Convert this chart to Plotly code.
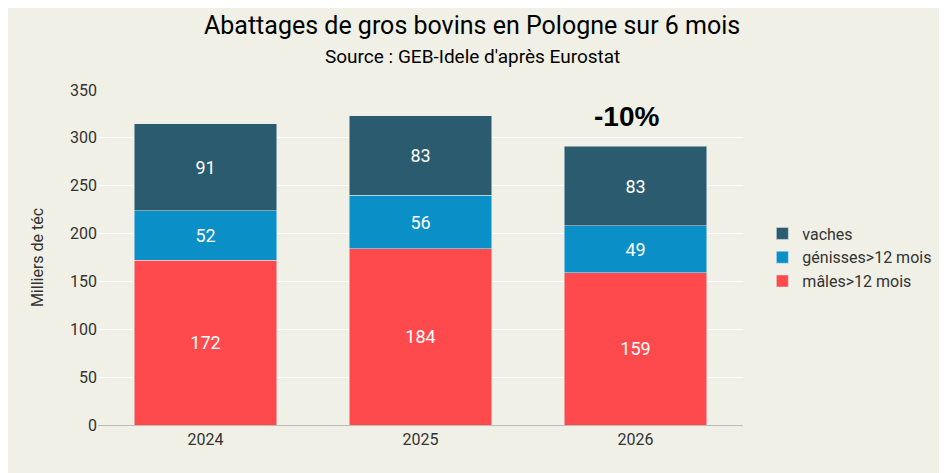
import plotly.graph_objects as go

years = ["2024", "2025", "2026"]
males = [172, 184, 159]
genisses = [52, 56, 49]
vaches = [91, 83, 83]
change_label = "-10%"

pos = list(range(len(years)))

fig = go.Figure()
for name, vals, color in [("mâles>12 mois", males, "#FF4A4D"),
                          ("génisses>12 mois", genisses, "#0A8FC6"),
                          ("vaches", vaches, "#2A5B6E")]:
    fig.add_trace(go.Bar(x=pos, y=vals, name=name, marker_color=color, width=0.665,
                         text=[str(v) for v in vals], textposition="inside",
                         insidetextanchor="middle",
                         textfont=dict(color="white", size=18)))

totals = [a + b + c for a, b, c in zip(males, genisses, vaches)]
fig.add_annotation(x=pos[-1], y=totals[-1], yshift=30, xshift=-9,
                   text="<b>" + change_label + "</b>",
                   showarrow=False, font=dict(size=28, color="black", family="Liberation Sans"))

fig.add_annotation(x=0.58, y=1.194, xref="paper", yref="paper", yanchor="middle",
                   text="Abattages de gros bovins en Pologne sur 6 mois", showarrow=False,
                   font=dict(size=25, color="black"))
fig.add_annotation(x=0.58, y=1.099, xref="paper", yref="paper", yanchor="middle",
                   text="Source : GEB-Idele d'après Eurostat", showarrow=False,
                   font=dict(size=19, color="black"))

fig.update_layout(
    barmode="stack",
    width=947, height=473,
    paper_bgcolor="#F0F0E6", plot_bgcolor="#F0F0E6",
    font=dict(family="Roboto", size=16, color="#333"),
    margin=dict(l=90, r=212, t=82, b=56),
    legend=dict(x=1.03, y=0.5, yanchor="middle", traceorder="reversed",
                font=dict(size=16), bgcolor="rgba(0,0,0,0)"),
    yaxis=dict(range=[0, 350], dtick=50, gridcolor="white", gridwidth=1,
               title=dict(text="Milliers de téc", font=dict(size=16), standoff=22),
               zeroline=False),
    xaxis=dict(range=[-0.5, 2.5], tickvals=pos, ticktext=years,
               showline=True, linecolor="#bbb", showgrid=False),
)
fig.write_html("out.html")
